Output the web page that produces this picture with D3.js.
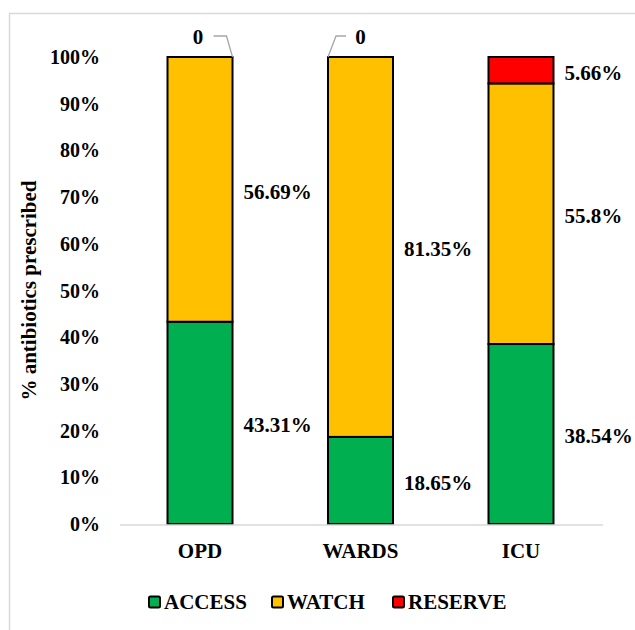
<!DOCTYPE html>
<html>
<head>
<meta charset="utf-8">
<script src="https://cdn.jsdelivr.net/npm/d3@7"></script>
<style>
  body { margin: 0; background: #fff; }
</style>
</head>
<body>
<div id="chart"></div>
<script>
// data
const categories = ["OPD", "WARDS", "ICU"];
const seriesNames = ["ACCESS", "WATCH", "RESERVE"];
const accessValues = [43.31, 18.65, 38.54];
const watchValues = [56.69, 81.35, 55.8];
const reserveValues = [0, 0, 5.66];
const yTicks = [0, 10, 20, 30, 40, 50, 60, 70, 80, 90, 100];

const colors = { ACCESS: "#00B050", WATCH: "#FFC000", RESERVE: "#FF0000" };
const FONT = "'Times New Roman', 'Liberation Serif', Times, serif";

const width = 635, height = 630;

const svg = d3.select("#chart")
    .append("svg")
    .attr("width", width)
    .attr("height", height)
    .attr("font-family", FONT)
    .attr("font-weight", "bold");

// chart border
svg.append("rect")
    .attr("x", 9.5)
    .attr("y", 13.5)
    .attr("width", width)
    .attr("height", height)
    .attr("fill", "none")
    .attr("stroke", "#d9d9d9")
    .attr("stroke-width", 1.5);

// build table for stack
const table = categories.map((c, i) => ({
    cat: c,
    ACCESS: accessValues[i],
    WATCH: watchValues[i],
    RESERVE: reserveValues[i]
}));
const valueOf = { ACCESS: accessValues, WATCH: watchValues, RESERVE: reserveValues };

const stacked = d3.stack().keys(seriesNames)(table);

const x = d3.scaleBand()
    .domain(categories)
    .range([120, 601])
    .paddingInner(0.595)
    .paddingOuter(0.296);

const y = d3.scaleLinear()
    .domain([0, 100])
    .range([524, 57]);

// y tick labels
svg.append("g")
    .selectAll("text")
    .data(yTicks)
    .enter()
    .append("text")
    .attr("x", 100)
    .attr("y", d => y(d))
    .attr("dy", "0.35em")
    .attr("text-anchor", "end")
    .style("font-size", "20px")
    .text(d => d + "%");

// y axis title
svg.append("text")
    .attr("transform", `translate(36, ${(y(0) + y(100)) / 2}) rotate(-90)`)
    .attr("text-anchor", "middle")
    .style("font-size", "21px")
    .text("% antibiotics prescribed");

// bars
const layers = svg.append("g")
    .selectAll("g")
    .data(stacked)
    .enter()
    .append("g")
    .attr("fill", d => colors[d.key]);

layers.selectAll("rect")
    .data(d => d.filter(s => s[1] - s[0] > 0))
    .enter()
    .append("rect")
    .attr("x", d => x(d.data.cat))
    .attr("y", d => y(d[1]))
    .attr("width", x.bandwidth())
    .attr("height", d => y(d[0]) - y(d[1]))
    .attr("stroke", "#000")
    .attr("stroke-width", 2);

// baseline
svg.append("line")
    .attr("x1", 120)
    .attr("x2", 603)
    .attr("y1", y(0) + 1)
    .attr("y2", y(0) + 1)
    .attr("stroke", "#d9d9d9")
    .attr("stroke-width", 1.5);

// category labels
svg.append("g")
    .selectAll("text")
    .data(categories)
    .enter()
    .append("text")
    .attr("x", d => x(d) + x.bandwidth() / 2)
    .attr("y", 551)
    .attr("dy", "0.35em")
    .attr("text-anchor", "middle")
    .style("font-size", "21px")
    .text(d => d);

// value labels (non-zero segments), right of the bar at segment middle
stacked.forEach(layer => {
    layer.forEach((s, i) => {
        const v = valueOf[layer.key][i];
        if (v <= 0) return;
        svg.append("text")
            .attr("x", x(s.data.cat) + x.bandwidth() + 11)
            .attr("y", y((s[0] + s[1]) / 2) + 2)
            .attr("dy", "0.35em")
            .style("font-size", "21px")
            .text(v + "%");
    });
});

// zero labels with leader lines
const reserveLayer = stacked[2];
reserveLayer.forEach((s, i) => {
    if (reserveValues[i] > 0) return;
    const bx = x(s.data.cat);
    const bw = x.bandwidth();
    const top = y(100);
    const cx = bx + bw / 2;
    const ly = top - 21;
    let pts;
    if (i === 0) {
        pts = [[bx + bw, top], [bx + bw - 6, ly], [bx + bw - 19, ly]];
    } else {
        pts = [[bx, top], [bx + 8, ly], [bx + 18, ly]];
    }
    svg.append("path")
        .attr("d", d3.line()(pts))
        .attr("fill", "none")
        .attr("stroke", "#a6a6a6")
        .attr("stroke-width", 1.3);
    svg.append("text")
        .attr("x", i === 0 ? cx - 2 : cx)
        .attr("y", ly + 1)
        .attr("dy", "0.35em")
        .attr("text-anchor", "middle")
        .style("font-size", "21px")
        .text("0");
});

// legend
const legendX = [148, 271, 392];
const legend = svg.append("g")
    .selectAll("g")
    .data(seriesNames)
    .enter()
    .append("g")
    .attr("transform", (d, i) => `translate(${legendX[i]}, 602)`);

legend.append("rect")
    .attr("x", 1)
    .attr("y", -5.5)
    .attr("width", 11)
    .attr("height", 11)
    .attr("rx", 1.5)
    .attr("fill", d => colors[d])
    .attr("stroke", "#000")
    .attr("stroke-width", 2);

legend.append("text")
    .attr("x", 16)
    .attr("y", 0)
    .attr("dy", "0.35em")
    .style("font-size", "21px")
    .text(d => d);
</script>
</body>
</html>
